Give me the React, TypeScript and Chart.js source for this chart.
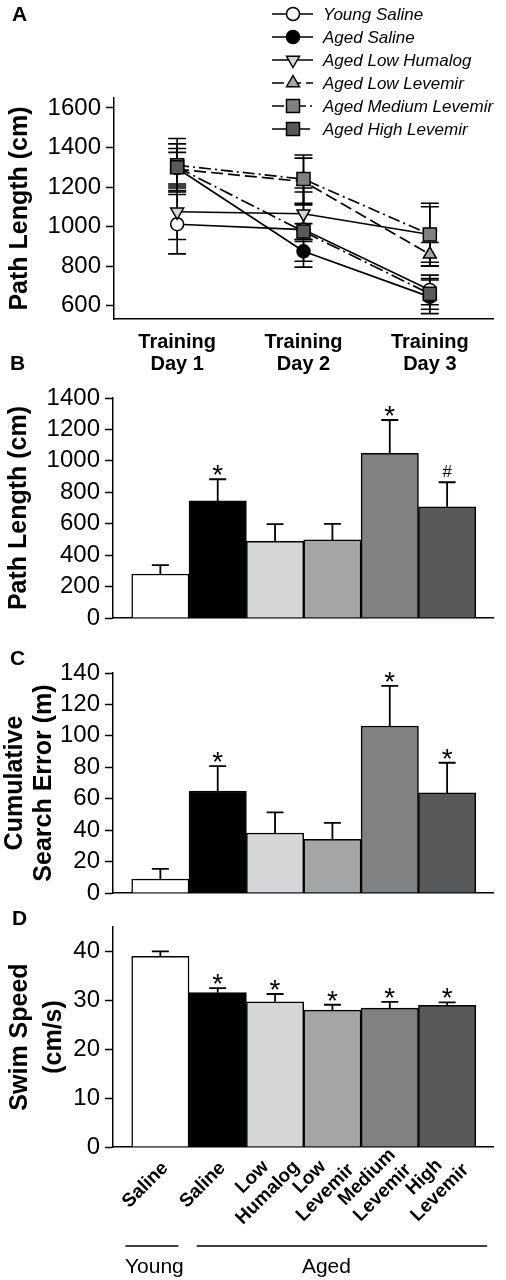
import React, { useEffect, useRef } from 'react';
import { Chart, registerables } from 'chart.js';

Chart.register(...registerables);

const FONT = '"Liberation Sans", Arial, Helvetica, sans-serif';
Chart.defaults.font.family = FONT;
Chart.defaults.color = '#000';

// ---------------- Panel A data ----------------
const trainingDays = [['Training', 'Day 1'], ['Training', 'Day 2'], ['Training', 'Day 3']];
const pathTicksA = [600, 800, 1000, 1200, 1400, 1600];
const seriesNames = [
  'Young Saline',
  'Aged Saline',
  'Aged Low Humalog',
  'Aged Low Levemir',
  'Aged Medium Levemir',
  'Aged High Levemir',
];
const youngSaline = [1012, 985, 680];
const youngSalineSem = [150, 190, 75];
const agedSaline = [1295, 875, 645];
const agedSalineSem = [100, 50, 85];
const lowHumalog = [1075, 1065, 960];
const lowHumalogSem = [140, 130, 140];
const lowLevemir = [1290, 1228, 860];
const lowLevemirSem = [85, 118, 60];
const mediumLevemir = [1310, 1240, 960];
const mediumLevemirSem = [135, 122, 158];
const highLevemir = [1300, 975, 660];
const highLevemirSem = [118, 40, 78];

// ---------------- Panels B-D data ----------------
const groupLabels = [['Saline'], ['Saline'], ['Low', 'Humalog'], ['Low', 'Levemir'], ['Medium', 'Levemir'], ['High', 'Levemir']];
const ageGroups = ['Young', 'Aged'];
const ageGroupFirst = [0, 1];
const ageGroupLast = [0, 5];

const pathLength = [280, 745, 488, 497, 1048, 708];
const pathLengthSem = [57, 138, 110, 102, 212, 156];
const pathLengthMarks = ['', '*', '', '', '*', '#'];
const pathTicks = [0, 200, 400, 600, 800, 1000, 1200, 1400];

const searchError = [8.9, 64.9, 38.2, 34.1, 106.3, 63.7];
const searchErrorSem = [6.4, 15.9, 13.1, 10.5, 25.5, 19.2];
const searchErrorMarks = ['', '*', '', '', '*', '*'];
const searchTicks = [0, 20, 40, 60, 80, 100, 120, 140];

const swimSpeed = [39.0, 31.6, 29.7, 28.0, 28.4, 29.0];
const swimSpeedSem = [1.0, 0.9, 1.6, 1.1, 1.3, 0.6];
const swimSpeedMarks = ['', '*', '*', '*', '*', '*'];
const swimTicks = [0, 10, 20, 30, 40];

// ---------------- styles ----------------
const barColors = ['#ffffff', '#000000', '#d4d6d8', '#a4a5a7', '#808183', '#58595b'];
const seriesA = [youngSaline, agedSaline, lowHumalog, lowLevemir, mediumLevemir, highLevemir];
const semsA = [youngSalineSem, agedSalineSem, lowHumalogSem, lowLevemirSem, mediumLevemirSem, highLevemirSem];
const stylesA = [
  { marker: 'circle', fill: '#ffffff', dash: [] as number[] },
  { marker: 'circle', fill: '#000000', dash: [] as number[] },
  { marker: 'triDown', fill: '#d4d6d8', dash: [] as number[] },
  { marker: 'triUp', fill: '#a4a5a7', dash: [12, 5] },
  { marker: 'rect', fill: '#808183', dash: [12, 4, 2, 4] },
  { marker: 'rect', fill: '#58595b', dash: [14, 4, 2, 4] },
];

function drawMarker(ctx: CanvasRenderingContext2D, marker: string, x: number, y: number, fill: string) {
  ctx.beginPath();
  if (marker === 'circle') {
    ctx.arc(x, y, 6.5, 0, Math.PI * 2);
  } else if (marker === 'rect') {
    ctx.rect(x - 6.5, y - 6.5, 13, 13);
  } else if (marker === 'triUp') {
    const r = 7.5;
    ctx.moveTo(x, y - r);
    ctx.lineTo(x + r * 0.866, y + r * 0.5);
    ctx.lineTo(x - r * 0.866, y + r * 0.5);
    ctx.closePath();
  } else {
    const r = 7.5;
    ctx.moveTo(x, y + r);
    ctx.lineTo(x + r * 0.866, y - r * 0.5);
    ctx.lineTo(x - r * 0.866, y - r * 0.5);
    ctx.closePath();
  }
  ctx.fillStyle = fill;
  ctx.fill();
  ctx.lineWidth = 1.5;
  ctx.strokeStyle = '#000';
  ctx.setLineDash([]);
  ctx.stroke();
}

function drawLetter(ctx: CanvasRenderingContext2D, letter: string, x: number, y: number) {
  ctx.save();
  ctx.font = `bold 21px ${FONT}`;
  ctx.fillStyle = '#000';
  ctx.textAlign = 'left';
  ctx.textBaseline = 'alphabetic';
  ctx.fillText(letter, x, y);
  ctx.restore();
}

function yAxis(min: number, max: number, ticks: number[], title: any, lh: number, pad: number, width: number) {
  return {
    min,
    max,
    afterBuildTicks: (s: any) => {
      s.ticks = ticks.map((v) => ({ value: v }));
    },
    grid: { drawOnChartArea: false, tickLength: 8, tickWidth: 1.5, tickColor: '#000' },
    border: { display: true, color: '#000', width: 1.5 },
    ticks: {
      color: '#000',
      font: { size: 24 },
      padding: 5,
      autoSkip: false,
      callback: (v: any) => String(v),
    },
    title: {
      display: true,
      text: title,
      color: '#000',
      font: { size: 25, weight: 'bold', lineHeight: lh },
      padding: { top: pad, bottom: 0 },
    },
    afterFit: (s: any) => {
      s.width = width;
    },
  };
}

// ---------------- Panel A ----------------
function LinePanel() {
  const ref = useRef<HTMLCanvasElement>(null);
  useEffect(() => {
    const canvas = ref.current!;
    const errPlugin = {
      id: 'errA',
      beforeDatasetsDraw(chart: any) {
        const ctx = chart.ctx;
        const ys = chart.scales.y;
        ctx.save();
        ctx.strokeStyle = '#000';
        ctx.lineWidth = 1.6;
        ctx.setLineDash([]);
        chart.data.datasets.forEach((ds: any, i: number) => {
          const meta = chart.getDatasetMeta(i);
          meta.data.forEach((pt: any, j: number) => {
            const v = ds.data[j];
            const e = semsA[i][j];
            const hi = ys.getPixelForValue(v + e);
            const lo = ys.getPixelForValue(v - e);
            ctx.beginPath();
            ctx.moveTo(pt.x, hi);
            ctx.lineTo(pt.x, lo);
            ctx.moveTo(pt.x - 9, hi);
            ctx.lineTo(pt.x + 9, hi);
            ctx.moveTo(pt.x - 9, lo);
            ctx.lineTo(pt.x + 9, lo);
            ctx.stroke();
          });
        });
        ctx.restore();
      },
    };
    const decor = {
      id: 'decorA',
      afterDraw(chart: any) {
        const ctx = chart.ctx;
        drawLetter(ctx, 'A', 12, 21);
        ctx.save();
        seriesNames.forEach((name, i) => {
          const y = 14 + i * 23;
          ctx.beginPath();
          ctx.setLineDash(stylesA[i].dash);
          ctx.strokeStyle = '#000';
          ctx.lineWidth = 1.7;
          ctx.moveTo(272, y);
          ctx.lineTo(313, y);
          ctx.stroke();
          drawMarker(ctx, stylesA[i].marker, 293, y, stylesA[i].fill);
          ctx.font = `italic 17px ${FONT}`;
          ctx.fillStyle = '#000';
          ctx.textAlign = 'left';
          ctx.textBaseline = 'middle';
          ctx.fillText(name, 323, y + 1);
        });
        ctx.restore();
      },
    };
    const chart = new Chart(canvas, {
      type: 'line',
      data: {
        labels: trainingDays as any,
        datasets: seriesA.map((vals, i) => ({
          label: seriesNames[i],
          data: vals,
          borderColor: '#000',
          borderWidth: 1.7,
          borderDash: stylesA[i].dash,
          fill: false,
          tension: 0,
          order: 5 - i,
          pointStyle: stylesA[i].marker === 'circle' ? 'circle' : stylesA[i].marker === 'rect' ? 'rect' : 'triangle',
          pointRotation: stylesA[i].marker === 'triDown' ? 180 : 0,
          pointRadius: stylesA[i].marker === 'rect' ? 9.2 : stylesA[i].marker === 'circle' ? 6.5 : 7.5,
          pointBackgroundColor: stylesA[i].fill,
          pointBorderColor: '#000',
          pointBorderWidth: 1.5,
        })) as any,
      },
      options: {
        animation: false,
        responsive: false,
        events: [],
        layout: { padding: { top: 98, right: 13, left: 0, bottom: 0 } },
        plugins: { legend: { display: false }, tooltip: { enabled: false } },
        scales: {
          x: {
            type: 'category',
            offset: true,
            grid: { display: false, drawTicks: false },
            border: { display: true, color: '#000', width: 1.5 },
            ticks: {
              color: '#000',
              font: { size: 20, weight: 'bold', lineHeight: 1.1 },
              padding: 12,
              maxRotation: 0,
              minRotation: 0,
              autoSkip: false,
            },
            afterFit: (s: any) => {
              s.height = 61;
            },
          } as any,
          y: yAxis(533, 1650, pathTicksA, 'Path Length (cm)', 1.2, 5, 114) as any,
        },
      },
      plugins: [errPlugin, decor],
    });
    return () => chart.destroy();
  }, []);
  return (
    <canvas
      ref={ref}
      width={506}
      height={380}
      style={{ position: 'absolute', left: 0, top: 0, width: 506, height: 380, display: 'block' }}
    />
  );
}

// ---------------- Bar panels ----------------
type BarProps = {
  top: number;
  height: number;
  padTop: number;
  xHeight: number;
  letter: string;
  letterX: number;
  letterY: number;
  values: number[];
  sems: number[];
  marks: string[];
  yMax: number;
  yTicks: number[];
  title: any;
  titleLH: number;
  titlePad: number;
  showCategories: boolean;
};

function BarPanel(p: BarProps) {
  const ref = useRef<HTMLCanvasElement>(null);
  useEffect(() => {
    const canvas = ref.current!;
    const extras = {
      id: 'barExtras',
      afterDatasetsDraw(chart: any) {
        const ctx = chart.ctx;
        const ys = chart.scales.y;
        const meta = chart.getDatasetMeta(0);
        ctx.save();
        meta.data.forEach((bar: any, i: number) => {
          const v = p.values[i];
          const topY = ys.getPixelForValue(v);
          const errY = ys.getPixelForValue(v + p.sems[i]);
          ctx.strokeStyle = '#000';
          ctx.lineWidth = 1.8;
          ctx.beginPath();
          ctx.moveTo(bar.x, topY);
          ctx.lineTo(bar.x, errY);
          ctx.moveTo(bar.x - 8.5, errY);
          ctx.lineTo(bar.x + 8.5, errY);
          ctx.stroke();
          const m = p.marks[i];
          if (m) {
            ctx.fillStyle = '#000';
            ctx.textAlign = 'center';
            ctx.textBaseline = 'alphabetic';
            if (m === '#') {
              ctx.font = `17px ${FONT}`;
              ctx.fillText(m, bar.x, errY - 5);
            } else {
              ctx.font = `28px ${FONT}`;
              ctx.fillText(m, bar.x, errY + 5);
            }
          }
        });
        ctx.restore();
      },
      afterDraw(chart: any) {
        const ctx = chart.ctx;
        drawLetter(ctx, p.letter, p.letterX, p.letterY);
        if (!p.showCategories) return;
        const xs = chart.scales.x;
        const bottom = chart.chartArea.bottom;
        ctx.save();
        ctx.fillStyle = '#000';
        ctx.font = `bold 19px ${FONT}`;
        ctx.textAlign = 'center';
        ctx.textBaseline = 'middle';
        groupLabels.forEach((lines, i) => {
          const cx = xs.getPixelForValue(i) - 15;
          const cy = bottom + 38;
          ctx.save();
          ctx.translate(cx, cy);
          ctx.rotate(-Math.PI / 4);
          lines.forEach((ln, k) => {
            ctx.fillText(ln, 0, (k - (lines.length - 1) / 2) * 22);
          });
          ctx.restore();
        });
        // age group brackets
        const leftPad = [35, 21];
        const rightPad = [18, 40];
        ageGroups.forEach((g, i) => {
          const a = xs.getPixelForValue(ageGroupFirst[i]);
          const b = xs.getPixelForValue(ageGroupLast[i]);
          ctx.strokeStyle = '#000';
          ctx.lineWidth = 1.5;
          ctx.beginPath();
          ctx.moveTo(a - leftPad[i], bottom + 99);
          ctx.lineTo(b + rightPad[i], bottom + 99);
          ctx.stroke();
          ctx.font = `21px ${FONT}`;
          ctx.textBaseline = 'alphabetic';
          ctx.textAlign = 'center';
          ctx.fillText(g, (a + b) / 2 - 6, bottom + 126);
        });
        ctx.restore();
      },
    };
    const chart = new Chart(canvas, {
      type: 'bar',
      data: {
        datasets: [
          {
            data: p.values.map((v, i) => ({ x: i, y: v })),
            backgroundColor: barColors,
            borderColor: '#000',
            borderWidth: 1.5,
            barPercentage: 1,
            categoryPercentage: 1,
          },
        ] as any,
      },
      options: {
        animation: false,
        responsive: false,
        events: [],
        layout: { padding: { top: p.padTop, right: 13, left: 0, bottom: 0 } },
        plugins: { legend: { display: false }, tooltip: { enabled: false } },
        scales: {
          x: {
            type: 'linear',
            offset: false,
            min: -0.826,
            max: 5.8,
            afterBuildTicks: (s: any) => {
              s.ticks = p.values.map((_, i) => ({ value: i }));
            },
            grid: { display: false, drawTicks: false },
            ticks: { display: false },
            border: { display: true, color: '#000', width: 1.5 },
            afterFit: (s: any) => {
              s.height = p.xHeight;
            },
          } as any,
          y: yAxis(0, p.yMax, p.yTicks, p.title, p.titleLH, p.titlePad, 113) as any,
        },
      },
      plugins: [extras],
    });
    return () => chart.destroy();
  }, []);
  return (
    <canvas
      ref={ref}
      width={506}
      height={p.height}
      style={{ position: 'absolute', left: 0, top: p.top, width: 506, height: p.height, display: 'block' }}
    />
  );
}

export default function App() {
  return (
    <div style={{ position: 'absolute', left: 0, top: 0, width: 506, height: 1280, background: '#fff' }}>
      <LinePanel />
      <BarPanel
        top={340}
        height={300}
        padTop={58}
        xHeight={22}
        letter="B"
        letterX={10}
        letterY={30}
        values={pathLength}
        sems={pathLengthSem}
        marks={pathLengthMarks}
        yMax={1400}
        yTicks={pathTicks}
        title="Path Length (cm)"
        titleLH={1.2}
        titlePad={4}
        showCategories={false}
      />
      <BarPanel
        top={630}
        height={285}
        padTop={43}
        xHeight={22}
        letter="C"
        letterX={10}
        letterY={35}
        values={searchError}
        sems={searchErrorSem}
        marks={searchErrorMarks}
        yMax={140}
        yTicks={searchTicks}
        title={['Cumulative', 'Search Error (m)']}
        titleLH={1.15}
        titlePad={1}
        showCategories={false}
      />
      <BarPanel
        top={900}
        height={380}
        padTop={27}
        xHeight={133}
        letter="D"
        letterX={12}
        letterY={25}
        values={swimSpeed}
        sems={swimSpeedSem}
        marks={swimSpeedMarks}
        yMax={45}
        yTicks={swimTicks}
        title={['Swim Speed', '(cm/s)']}
        titleLH={1.35}
        titlePad={3}
        showCategories={true}
      />
    </div>
  );
}
